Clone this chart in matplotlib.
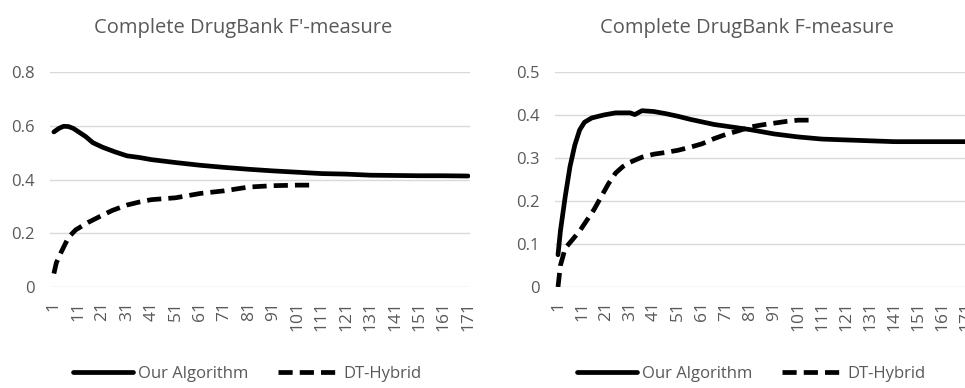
import matplotlib
matplotlib.use("Agg")
import matplotlib.pyplot as plt

# Data (x = rank position 1..171)
fprime_ours_x = [1, 3, 5, 7, 9, 11, 14, 17, 21, 26, 31, 36, 41, 51, 61, 71,
                 81, 91, 101, 111, 121, 131, 141, 151, 161, 171]
fprime_ours_y = [0.577, 0.590, 0.598, 0.597, 0.590, 0.578, 0.560, 0.537, 0.520,
                 0.503, 0.488, 0.482, 0.474, 0.463, 0.453, 0.445, 0.438, 0.432,
                 0.427, 0.422, 0.420, 0.416, 0.415, 0.414, 0.414, 0.413]

fprime_dt_x = [1, 2, 4, 7, 10, 15, 20, 25, 31, 36, 41, 51, 61, 71, 81, 91, 101, 106]
fprime_dt_y = [0.05, 0.09, 0.13, 0.185, 0.213, 0.24, 0.263, 0.285, 0.305, 0.316,
               0.325, 0.332, 0.348, 0.358, 0.372, 0.377, 0.379, 0.379]

f_ours_x = [1, 2, 4, 6, 8, 10, 12, 15, 20, 25, 31, 33, 36, 41, 46, 51, 56, 61,
            66, 71, 76, 81, 91, 101, 111, 121, 131, 141, 151, 161, 171]
f_ours_y = [0.075, 0.13, 0.21, 0.28, 0.33, 0.365, 0.383, 0.393, 0.400, 0.405,
            0.405, 0.401, 0.410, 0.408, 0.403, 0.397, 0.390, 0.384, 0.378, 0.374,
            0.370, 0.366, 0.356, 0.349, 0.344, 0.342, 0.340, 0.338, 0.338, 0.338,
            0.338]

f_dt_x = [1, 2, 4, 7, 10, 13, 16, 19, 22, 25, 28, 31, 36, 41, 46, 51, 56, 61,
          66, 71, 76, 81, 86, 91, 96, 101, 106]
f_dt_y = [0.0, 0.05, 0.09, 0.11, 0.13, 0.155, 0.18, 0.21, 0.24, 0.265, 0.28,
          0.29, 0.302, 0.309, 0.313, 0.318, 0.325, 0.333, 0.345, 0.355, 0.363,
          0.372, 0.377, 0.381, 0.385, 0.388, 0.388]

x_ticks = list(range(1, 172, 10))
series_names = ["Our Algorithm", "DT-Hybrid"]

GRAY = "#595959"
GRID = "#d9d9d9"
plt.rcParams['font.family'] = ['Open Sans', 'DejaVu Sans']

fig = plt.figure(figsize=(9.65, 3.88), dpi=100)
ax1 = fig.add_axes([50 / 965, 101 / 388, 420 / 965, 215 / 388])
ax2 = fig.add_axes([555 / 965, 101 / 388, 413 / 965, 215 / 388])


def style_axes(ax, yticks, ylabels, ymax):
    ax.set_ylim(0, ymax)
    ax.set_yticks(yticks, ylabels)
    ax.set_xticks(x_ticks, [str(t) for t in x_ticks], rotation=90)
    ax.tick_params(length=0, colors=GRAY, labelsize=12.5)
    ax.tick_params(axis='y', pad=11, labelsize=12)
    ax.tick_params(axis='x', pad=10)
    for s in ax.spines.values():
        s.set_visible(False)
    ax.grid(axis='y', color=GRID, lw=1)
    ax.set_axisbelow(True)


def draw(ax, ox, oy, dx, dy):
    ax.plot(ox, oy, color='black', lw=3.4, solid_capstyle='round',
            label=series_names[0])
    ax.plot(dx, dy, color='black', lw=3.4, dashes=(3.0, 1.5),
            label=series_names[1])


draw(ax1, fprime_ours_x, fprime_ours_y, fprime_dt_x, fprime_dt_y)
style_axes(ax1, [0, 0.2, 0.4, 0.6, 0.8], ['0', '0.2', '0.4', '0.6', '0.8'], 0.8)
ax1.set_xlim(-0.6, 171.8)

draw(ax2, f_ours_x, f_ours_y, f_dt_x, f_dt_y)
style_axes(ax2, [0, 0.1, 0.2, 0.3, 0.4, 0.5],
           ['0', '0.1', '0.2', '0.3', '0.4', '0.5'], 0.5)
ax2.set_xlim(-0.25, 171.8)

fig.text(243 / 965, 1 - 28 / 388, "Complete DrugBank F'-measure",
         ha='center', va='center', color=GRAY, fontsize=14.5)
fig.text(747 / 965, 1 - 28 / 388, "Complete DrugBank F-measure",
         ha='center', va='center', color=GRAY, fontsize=14.5)

for ax, cx in [(ax1, 247 / 965), (ax2, 751 / 965)]:
    leg = ax.legend(loc='center', bbox_to_anchor=(cx, 14 / 388),
                    bbox_transform=fig.transFigure, ncol=2, frameon=False,
                    fontsize=12, handlelength=3.6, handletextpad=0.3,
                    columnspacing=1.8)
    for t in leg.get_texts():
        t.set_color(GRAY)

fig.savefig("out.png", dpi=100, facecolor='white')
